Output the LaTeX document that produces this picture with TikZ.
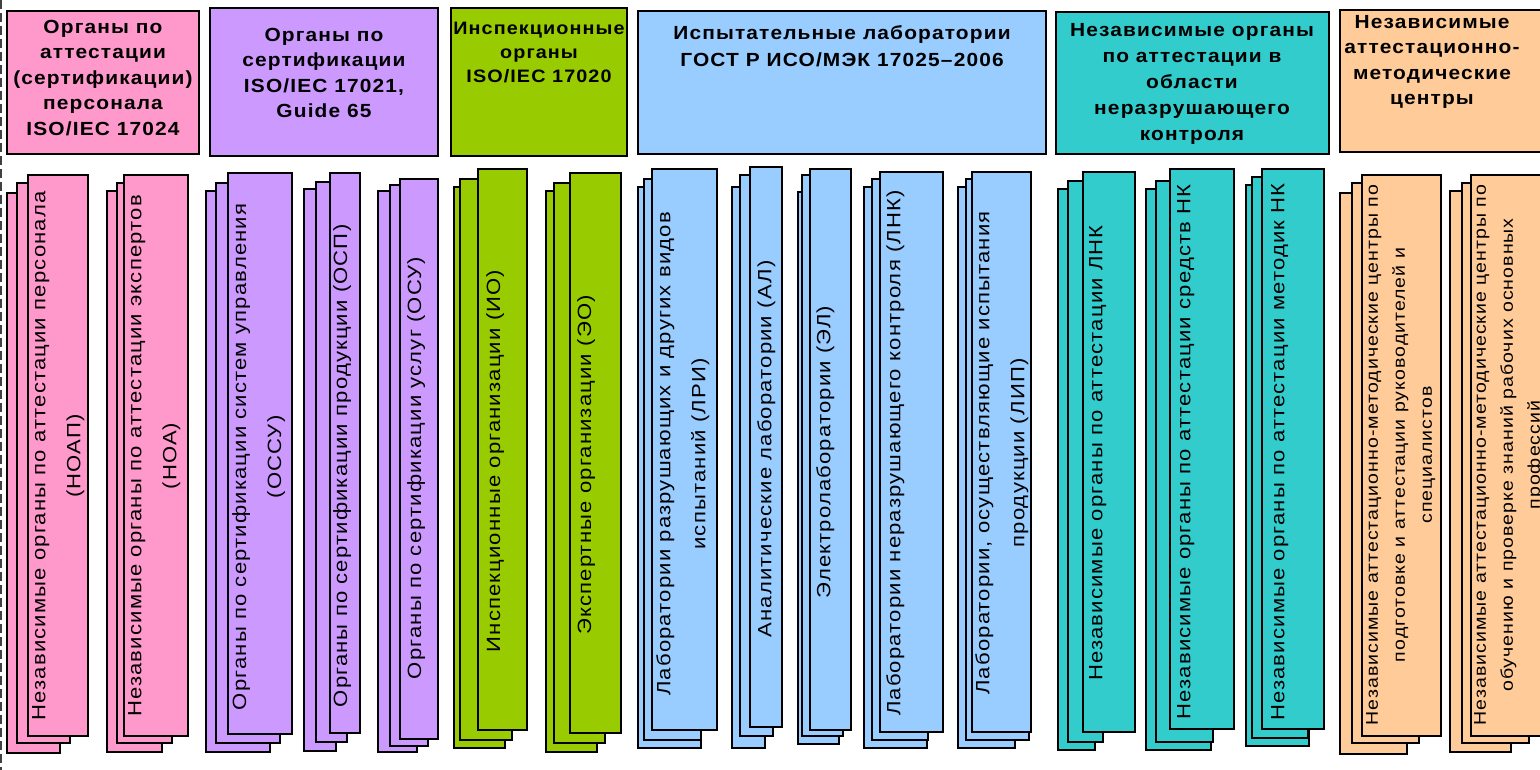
\documentclass[tikz,border=0pt]{standalone}
\usepackage{fontspec}
\setmainfont{Liberation Sans}
\newfontfamily\hdrfont{Liberation Sans}[LetterSpace=6, FakeStretch=1.1]
\newfontfamily\colfont{Liberation Sans}[LetterSpace=6, FakeStretch=1.15]
\definecolor{pinkc}{RGB}{255,153,204}
\definecolor{purplec}{RGB}{204,153,255}
\definecolor{greenc}{RGB}{153,204,0}
\definecolor{bluec}{RGB}{153,204,255}
\definecolor{tealc}{RGB}{51,204,204}
\definecolor{orangec}{RGB}{255,204,153}
\tikzset{
  hdr/.style={draw=black, line width=1.6pt},
  stk/.style={draw=black, line width=1.4pt},
  htext/.style={font=\hdrfont\bfseries\fontsize{19}{25.5}\selectfont, align=center, anchor=north, inner sep=0pt},
  vtext/.style={font=\colfont\fontsize{19.2}{35}\selectfont, align=center, rotate=90, anchor=north, inner sep=0pt},
  vsmall/.style={font=\colfont\fontsize{17}{27}\selectfont, align=center, rotate=90, anchor=north, inner sep=0pt},
  edgeline/.style={draw=black!75, line width=2pt, dash pattern=on 9pt off 4pt}
}
\newcommand{\tristack}[4]{%
  \filldraw[stk, fill=#1] #2;
  \filldraw[stk, fill=#1] #3;
  \filldraw[stk, fill=#1] #4;}
\begin{document}
\begin{tikzpicture}[x=1pt,y=-1pt]
\useasboundingbox (0,0) rectangle (1540,770);
\clip (0,0) rectangle (1540,770);
\fill[white] (0,0) rectangle (1540,770);
\draw[edgeline] (1,0) -- (1,770);

% headers
\filldraw[hdr, fill=pinkc] (7,11) rectangle (199,154);
\node[htext] (h1) at (103,20) {Органы по\\аттестации\\(сертификации)\\персонала\\ISO/IEC 17024};
\filldraw[hdr, fill=purplec] (210,8) rectangle (438,156);
\node[htext] (h2) at (324,28) {Органы по\\сертификации\\ISO/IEC 17021,\\Guide 65};
\filldraw[hdr, fill=greenc] (451,8) rectangle (627,156);
\node[htext, font=\hdrfont\bfseries\fontsize{18}{24}\selectfont] (h3) at (539,22) {Инспекционные\\органы\\ISO/IEC 17020};
\filldraw[hdr, fill=bluec] (638,11) rectangle (1046,154);
\node[htext, font=\hdrfont\bfseries\fontsize{19}{27}\selectfont] (h4) at (842,25) {Испытательные лаборатории\\ГОСТ Р ИСО/МЭК 17025–2006};
\filldraw[hdr, fill=tealc] (1056,12) rectangle (1329,154);
\node[htext, font=\hdrfont\bfseries\fontsize{19}{26}\selectfont] (h5) at (1192,23) {Независимые органы\\по аттестации в\\области\\неразрушающего\\контроля};
\filldraw[hdr, fill=orangec] (1340,10) rectangle (1560,152);
\node[htext] (h6) at (1432,15) {Независимые\\аттестационно-\\методические\\центры};

% stacks
\tristack{pinkc}{(7,193) rectangle (60,753)}{(17,183) rectangle (70,743)}{(28,175) rectangle (88,736)}
\node[vtext] (c1) at (32,456) {Независимые органы по аттестации персонала\\(НОАП)};
\tristack{pinkc}{(107,191) rectangle (162,752)}{(117,183) rectangle (172,743)}{(124,175) rectangle (188,736)}
\node[vtext] (c2) at (128,456) {Независимые органы по аттестации экспертов\\(НОА)};
\tristack{purplec}{(206,191) rectangle (270,752)}{(216,183) rectangle (280,743)}{(228,173) rectangle (292,734)}
\node[vtext] (c3) at (232,457) {Органы по сертификации систем управления\\(ОССУ)};
\tristack{purplec}{(304,189) rectangle (336,751)}{(316,182) rectangle (347,742)}{(330,173) rectangle (360,733)}
\node[vtext] (c4) at (333,466) {Органы по сертификации продукции (ОСП)};
\tristack{purplec}{(378,191) rectangle (417,752)}{(390,185) rectangle (428,746)}{(400,179) rectangle (438,739)}
\node[vtext] (c5) at (407,468) {Органы по сертификации услуг (ОСУ)};
\tristack{greenc}{(454,187) rectangle (505,748)}{(460,179) rectangle (512,740)}{(478,169) rectangle (527,730)}
\node[vtext] (c6) at (486,461) {Инспекционные организации (ИО)};
\tristack{greenc}{(546,191) rectangle (597,752)}{(554,183) rectangle (605,743)}{(570,173) rectangle (621,733)}
\node[vtext] (c7) at (577,465) {Экспертные организации (ЭО)};
\tristack{bluec}{(638,187) rectangle (701,748)}{(644,179) rectangle (701,740)}{(652,169) rectangle (717,730)}
\node[vtext] (c8) at (656,454) {Лаборатории разрушающих и других видов\\испытаний (ЛРИ)};
\tristack{bluec}{(732,187) rectangle (765,748)}{(740,175) rectangle (773,736)}{(750,167) rectangle (782,727)}
\node[vtext] (c9) at (757,449) {Аналитические лаборатории (АЛ)};
\tristack{bluec}{(798,192) rectangle (839,744)}{(802,175) rectangle (843,736)}{(810,169) rectangle (851,730)}
\node[vtext] (c10) at (816,452) {Электролаборатории (ЭЛ)};
\tristack{bluec}{(864,187) rectangle (927,748)}{(872,179) rectangle (928,740)}{(880,172) rectangle (943,732)}
\node[vtext] (c11) at (886,453) {Лаборатории неразрушающего контроля (ЛНК)};
\tristack{bluec}{(958,187) rectangle (1015,748)}{(966,179) rectangle (1029,740)}{(972,172) rectangle (1031,732)}
\node[vtext] (c12) at (975,453) {Лаборатории, осуществляющие испытания\\продукции (ЛИП)};
\tristack{tealc}{(1058,189) rectangle (1095,750)}{(1068,181) rectangle (1103,742)}{(1083,172) rectangle (1135,732)}
\node[vtext] (c13) at (1089,453) {Независимые органы по аттестации ЛНК};
\tristack{tealc}{(1146,189) rectangle (1211,750)}{(1156,181) rectangle (1213,742)}{(1170,169) rectangle (1234,729)}
\node[vtext] (c14) at (1177,452) {Независимые органы по аттестации средств НК};
\tristack{tealc}{(1246,185) rectangle (1309,746)}{(1252,177) rectangle (1308,738)}{(1262,169) rectangle (1324,729)}
\node[vtext] (c15) at (1271,452) {Независимые органы по аттестации методик НК};
\tristack{orangec}{(1340,193) rectangle (1407,754)}{(1352,183) rectangle (1419,743)}{(1362,175) rectangle (1441,736)}
\node[vsmall] (c16) at (1366,455) {Независимые аттестационно-методические центры по\\подготовке и аттестации руководителей и\\специалистов};
\tristack{orangec}{(1450,191) rectangle (1511,752)}{(1462,183) rectangle (1529,743)}{(1471,175) rectangle (1550,736)}
\node[vsmall] (c17) at (1474,455) {Независимые аттестационно-методические центры по\\обучению и проверке знаний рабочих основных\\профессий};
\end{tikzpicture}
\end{document}
